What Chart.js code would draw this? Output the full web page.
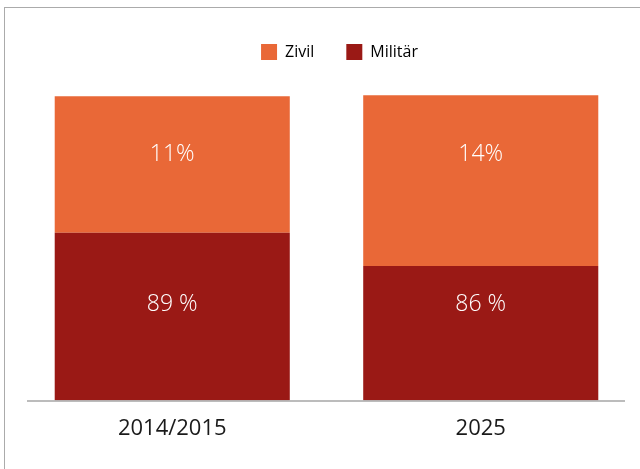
<!DOCTYPE html>
<html>
<head>
<meta charset="utf-8">
<script src="https://cdn.jsdelivr.net/npm/chart.js@4/dist/chart.umd.min.js"></script>
<style>
  html, body { margin: 0; padding: 0; background: #fff; }
  #wrap { position: relative; width: 640px; height: 469px; overflow: hidden; }
  #frame { position: absolute; left: 4px; top: 7px; width: 700px; height: 500px; border: 1px solid #ababab; box-sizing: border-box; }
  #c { position: absolute; left: 0; top: 0; }
</style>
</head>
<body>
<div id="wrap">
  <div id="frame"></div>
  <canvas id="c" width="640" height="469"></canvas>
</div>
<script>
const categories = ['2014/2015', '2025'];
const militaer = [55.1, 44.2];
const zivil = [44.9, 56.1];
const militaerLabels = ['89 %', '86 %'];
const zivilLabels = ['11%', '14%'];

const ORANGE = '#e96837';
const RED = '#9a1915';

// Prozentwerte in fester Höhe über beiden Säulen
const barLabels = {
  id: 'barLabels',
  afterDatasetsDraw(chart) {
    const ctx = chart.ctx;
    const y = chart.scales.y;
    ctx.save();
    ctx.fillStyle = '#fff';
    ctx.font = '300 23px "Open Sans"';
    ctx.textAlign = 'center';
    ctx.textBaseline = 'middle';
    chart.getDatasetMeta(0).data.forEach((bar, i) => {
      ctx.fillText(militaerLabels[i], bar.x, y.getPixelForValue(31.5));
    });
    chart.getDatasetMeta(1).data.forEach((bar, i) => {
      ctx.fillText(zivilLabels[i], bar.x, y.getPixelForValue(80.9));
    });
    ctx.restore();
  }
};

// Grundlinie etwas kürzer als die Zeichenfläche
const baseLine = {
  id: 'baseLine',
  afterDatasetsDraw(chart) {
    const { ctx, chartArea } = chart;
    ctx.save();
    ctx.strokeStyle = '#a6a6a6';
    ctx.lineWidth = 1.5;
    ctx.beginPath();
    ctx.moveTo(chartArea.left + 9, chartArea.bottom + 0.5);
    ctx.lineTo(chartArea.right - 10, chartArea.bottom + 0.5);
    ctx.stroke();
    ctx.restore();
  }
};

const legendShift = {
  id: 'legendShift',
  afterLayout(chart) {
    chart.legend.left += 13;
    chart.legend.right += 13;
  }
};

new Chart(document.getElementById('c'), {
  type: 'bar',
  data: {
    labels: categories,
    datasets: [
      { label: 'Militär', data: militaer, backgroundColor: RED, stack: 's' },
      { label: 'Zivil', data: zivil, backgroundColor: ORANGE, stack: 's' }
    ]
  },
  options: {
    responsive: false,
    animation: false,
    events: [],
    barPercentage: 0.762,
    categoryPercentage: 1,
    layout: { padding: { left: 18, right: 5, top: 12, bottom: 12 } },
    plugins: {
      tooltip: { enabled: false },
      legend: {
        position: 'top',
        labels: {
          boxWidth: 16,
          boxHeight: 16,
          padding: 32,
          color: '#222',
          font: { family: 'Open Sans', size: 16 },
          sort: (a, b) => b.datasetIndex - a.datasetIndex,
          generateLabels: (chart) => chart.data.datasets.map((ds, i) => ({
            text: ds.label,
            fillStyle: ds.backgroundColor,
            strokeStyle: ds.backgroundColor,
            lineWidth: 0,
            datasetIndex: i
          }))
        }
      }
    },
    scales: {
      x: {
        stacked: true,
        grid: { display: false, drawTicks: false },
        border: { display: false },
        ticks: {
          color: '#1a1a1a',
          padding: 15,
          font: { family: 'Open Sans', size: 22 }
        }
      },
      y: {
        stacked: true,
        display: false,
        min: 0,
        max: 108.6
      }
    }
  },
  plugins: [barLabels, baseLine, legendShift]
});
</script>
</body>
</html>
